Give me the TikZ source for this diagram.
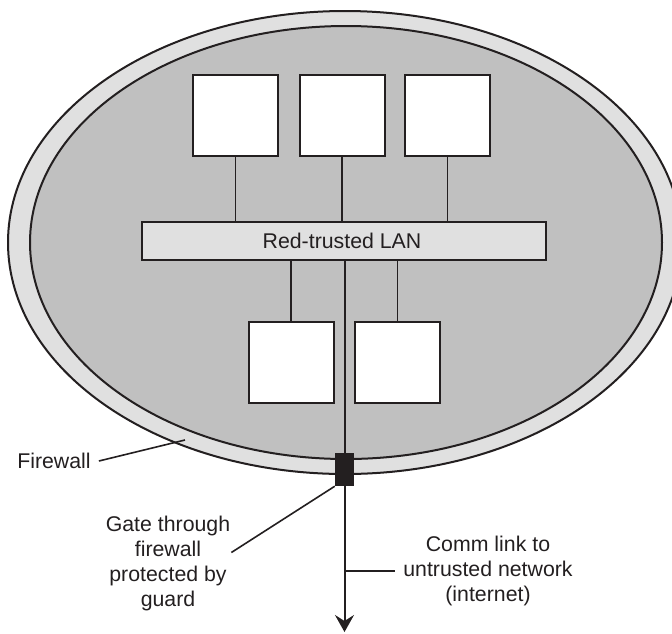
\documentclass[tikz,border=0pt]{standalone}
\usepackage{fontspec}
\setmainfont{Liberation Sans}
\usetikzlibrary{arrows.meta}
\definecolor{ink}{HTML}{231F20}
\definecolor{ringgray}{HTML}{E0E0E0}
\definecolor{ingray}{HTML}{C0C0C0}
\begin{document}
\begin{tikzpicture}[x=1pt,y=-1pt,
  ring/.style={draw=ink, line width=2pt},
  host/.style={draw=ink, line width=2pt, fill=white, minimum width=85pt, minimum height=81pt, inner sep=0pt},
  lan/.style={draw=ink, line width=2pt, fill=ringgray, minimum width=404pt, minimum height=38pt, inner sep=0pt, font=\fontsize{21.3}{25}\selectfont, text=ink},
  gatebox/.style={fill=ink, minimum width=19pt, minimum height=33pt, inner sep=0pt},
  wire/.style={draw=ink, line width=1.6pt},
  trunk/.style={draw=ink, line width=2pt},
  lbl/.style={font=\fontsize{21.3}{25}\selectfont, text=ink, align=center, inner sep=0pt},
  lead/.style={draw=ink, line width=1.6pt}]
\useasboundingbox (0,0) rectangle (672,633);
\begin{scope}
\clip (0,0) rectangle (672,633);
\filldraw[ring, fill=ringgray] (345,242.5) ellipse [x radius=337, y radius=231.5];
\filldraw[ring, fill=ingray] (346,242.5) ellipse [x radius=316, y radius=216.5];
\end{scope}

\node[lan] (lan) at (344,241) {\hspace*{-4pt}Red-trusted LAN};
\node[host] (t1) at (235.5,115.5) {};
\node[host] (t2) at (342,115.5) {};
\node[host] (t3) at (447.5,115.5) {};
\node[host] (b1) at (291,362) {};
\node[host] (b2) at (397.5,362) {};

\draw[wire] (t1.south) -- (t1.south |- lan.north);
\draw[wire] (t2.south) -- (t2.south |- lan.north);
\draw[wire] (t3.south) -- (t3.south |- lan.north);
\draw[wire] (b1.north |- lan.south) -- (b1.north);
\draw[wire] (b2.north |- lan.south) -- (b2.north);

\node[gatebox] (gate) at (344.5,469.5) {};
\coordinate (tip) at (344.5,632);
\draw[trunk] (lan.south -| gate.center) -- (gate.north);
\draw[trunk, -{Stealth[length=17pt, width=19pt, inset=6pt]}] (gate.south) -- (tip);

\node[lbl] (fw) at (54,461) {Firewall};
\coordinate (fwpt) at (185,440);
\draw[lead] ([xshift=8pt]fw.east) -- (fwpt);

\node[lbl] (gl) at (168,563.5) {Gate through\\firewall\\protected by\\guard};
\draw[lead] ([xshift=1pt,yshift=11pt]gl.east) -- (gate.south west);

\node[lbl] (cl) at (488,571) {Comm link to\\untrusted network\\(internet)};
\draw[lead] (cl.west -| gate.center) -- ([xshift=-8pt]cl.west);
\end{tikzpicture}
\end{document}
